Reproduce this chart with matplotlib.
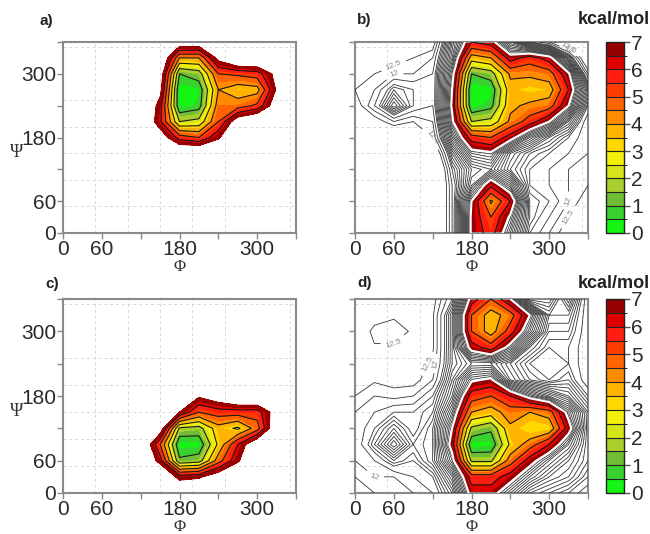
import numpy as np
import matplotlib
matplotlib.use('Agg')
import matplotlib.pyplot as plt
from matplotlib.colors import ListedColormap, BoundaryNorm

plt.rcParams['font.family'] = ['Liberation Sans', 'DejaVu Sans']

# grid nodes (degrees)
phi = [0, 30, 60, 90, 120, 150, 180, 210, 240, 270, 300, 330, 360]
psi_top_down = [360, 330, 300, 270, 240, 210, 180, 150, 120, 90, 60, 30, 0]

# free energy (kcal/mol), rows psi = 360 ... 0, columns phi = 0 ... 360
energy_a = [
    [9, 9, 9, 9, 9, 9, 8.2, 8.2, 9, 9, 9, 9, 9],
    [9, 9, 9, 9, 9, 9, 4, 4, 7.5, 9, 9, 9, 9],
    [9, 9, 9, 9, 9, 8, 1.0, 1.5, 5, 5.2, 5.5, 7.5, 9],
    [9, 9, 9, 9, 9, 7.5, 0.1, 0.4, 4, 3.4, 3.6, 7.2, 9],
    [9, 9, 9, 9, 9, 6.5, 0.2, 0.6, 4.5, 4.5, 5.2, 8, 9],
    [9, 9, 9, 9, 9, 6.2, 2.0, 2.3, 5, 8, 9, 9, 9],
    [9, 9, 9, 9, 9, 8, 5.5, 5, 6.8, 9, 9, 9, 9],
    [9, 9, 9, 9, 9, 9, 9, 9, 9, 9, 9, 9, 9],
    [9, 9, 9, 9, 9, 9, 9, 9, 9, 9, 9, 9, 9],
    [9, 9, 9, 9, 9, 9, 9, 9, 9, 9, 9, 9, 9],
    [9, 9, 9, 9, 9, 9, 9, 9, 9, 9, 9, 9, 9],
    [9, 9, 9, 9, 9, 9, 9, 9, 9, 9, 9, 9, 9],
    [9, 9, 9, 9, 9, 9, 9, 9, 9, 9, 9, 9, 9],
]

energy_b = [
    [15, 15, 15, 14, 13, 9, 6, 6.5, 9, 11, 12, 14, 15],
    [15, 14, 13, 12.5, 12, 8.5, 3.5, 4, 6.5, 5.5, 6.5, 10, 14],
    [14, 12.5, 12, 12, 11.5, 7.5, 1.0, 1.5, 4.2, 4.2, 4.5, 6.8, 12],
    [12.5, 12, 10.5, 11, 11.5, 7, 0.1, 0.3, 3.6, 3.3, 3.5, 6, 10],
    [13, 11.5, 9.5, 11, 11.5, 6.8, 0.2, 0.7, 3.8, 4.2, 4.5, 7, 11],
    [15, 13, 12, 12.5, 12, 7.3, 2.0, 2.3, 4.2, 5.5, 7, 9.5, 12],
    [15, 15, 14, 13, 12.5, 8.5, 5.5, 5, 6.5, 8.5, 10, 11, 12],
    [15, 15, 15, 14.5, 14, 10, 7.5, 7.2, 9.5, 10.5, 11, 11.5, 12],
    [15, 15, 15, 15, 15, 11, 9, 8.5, 10, 11, 11.5, 12, 12.5],
    [15, 15, 15, 15, 15, 11.5, 8.5, 6.2, 8, 11, 11.5, 12, 12.5],
    [15, 15, 15, 15, 15, 11.5, 7, 3.8, 6, 10.5, 11, 12, 13],
    [15, 15, 15, 15, 15, 11.5, 6.8, 5, 7.2, 10.5, 11.5, 12.5, 13],
    [15, 15, 15, 15, 15, 11.5, 6.8, 5.5, 8, 11, 12, 13, 14],
]

energy_c = [
    [9, 9, 9, 9, 9, 9, 9, 9, 9, 9, 9, 9, 9],
    [9, 9, 9, 9, 9, 9, 9, 9, 9, 9, 9, 9, 9],
    [9, 9, 9, 9, 9, 9, 9, 9, 9, 9, 9, 9, 9],
    [9, 9, 9, 9, 9, 9, 9, 9, 9, 9, 9, 9, 9],
    [9, 9, 9, 9, 9, 9, 9, 9, 9, 9, 9, 9, 9],
    [9, 9, 9, 9, 9, 9, 9, 9, 9, 9, 9, 9, 9],
    [9, 9, 9, 9, 9, 9, 8.5, 7.2, 8, 9, 9, 9, 9],
    [9, 9, 9, 9, 9, 9, 7, 5, 5.5, 5.5, 5.5, 7.8, 9],
    [9, 9, 9, 9, 9, 8, 1.8, 1.6, 3.6, 2.8, 4.5, 8.5, 9],
    [9, 9, 9, 9, 9, 5, 0.2, 0.3, 3.2, 6, 8.5, 9, 9],
    [9, 9, 9, 9, 9, 6.5, 1.2, 1.5, 4.5, 6.8, 9, 9, 9],
    [9, 9, 9, 9, 9, 9, 6.5, 6.8, 8, 9, 9, 9, 9],
    [9, 9, 9, 9, 9, 9, 9, 9, 9, 9, 9, 9, 9],
]

energy_d = [
    [14, 14, 13.5, 13, 12.8, 11, 6.5, 5, 7, 11, 11, 9, 12],
    [14, 13, 12.6, 12.6, 12.6, 10, 5, 3.5, 4.5, 7, 10, 10, 12],
    [13.5, 12.2, 12.2, 12.6, 12.6, 10, 5, 3.5, 5.5, 8, 10.5, 10.5, 12],
    [13, 12.6, 12.6, 12.6, 12.6, 10, 6.5, 5.5, 7.5, 10, 11, 11, 12],
    [13.5, 13, 12.8, 12.8, 12.4, 10, 9, 9, 10, 11, 11.5, 11, 12],
    [13, 12.6, 12.8, 12.8, 12, 9.5, 7.2, 6.8, 9.5, 10.5, 11, 10.5, 12],
    [12.5, 12, 12.2, 12, 11, 9, 5.5, 5, 6, 7.5, 8.5, 9.5, 11],
    [12, 11.5, 11, 11, 10.5, 8, 4, 3.5, 4.5, 4, 4.5, 7.5, 10],
    [12, 11, 10, 11, 10, 7, 1.8, 1.2, 3.8, 3, 3.2, 6.5, 10],
    [12, 10.5, 9, 10.5, 10, 6.5, 0.2, 0.3, 3.2, 4.5, 6, 8, 10],
    [12, 11.5, 10.5, 11, 10, 7.5, 1.8, 1.8, 4.5, 6.5, 8, 9, 10],
    [12.5, 12, 12, 11.5, 11, 9, 5.5, 5.5, 6.5, 8, 9, 9.5, 10.5],
    [13, 12.5, 12.5, 12, 11.5, 10, 6.5, 6.5, 8, 9.5, 10, 10.5, 11],
]

band_colors = ['#14f514', '#37d22d', '#6fbe36', '#a9cf2c', '#d6e41a', '#f2ef0a', '#ffd800',
               '#ffb400', '#ff8c00', '#ff6400', '#ff3c00', '#ff1e10', '#e00000', '#960000']
levels = np.arange(0, 7.01, 0.5)
cmap = ListedColormap(band_colors)
norm = BoundaryNorm(levels, cmap.N)
gray_levels = list(np.arange(7.25, 11.01, 0.25)) + [11.5, 12.0, 12.5]

X, Y = np.meshgrid(phi, psi_top_down)

W, H = 650.0, 534.0
def box(l, t, r, b):
    return [l / W, (H - b) / H, (r - l) / W, (b - t) / H]

fig = plt.figure(figsize=(6.5, 5.34), dpi=100)

# tag, data, axes box, full map?, tag position
panels = [
    ('a)', energy_a, box(63, 42, 296, 233), False, (40, 21)),
    ('b)', energy_b, box(355, 42, 588, 233), True, (357, 20)),
    ('c)', energy_c, box(63, 299, 296, 493), False, (45, 284)),
    ('d)', energy_d, box(355, 299, 588, 493), True, (357, 283)),
]

for tag, E, pos, full, tpos in panels:
    Z = np.array(E, dtype=float)
    ax = fig.add_axes(pos)
    ax.set_axisbelow(True)
    cf = ax.contourf(X, Y, Z, levels=levels, cmap=cmap, norm=norm, zorder=2)
    ax.contour(X, Y, Z, levels=[1, 2, 3, 4, 5, 6], colors='#1a1a1a', linewidths=0.8, zorder=3)
    if full:
        cs = ax.contour(X, Y, Z, levels=gray_levels, colors='#333333', linewidths=0.6, zorder=3)
        lab = [l for l in cs.levels if l in (12.0, 12.5)]
        ax.clabel(cs, levels=lab, fontsize=6, colors='#888888', fmt='%g', inline=True)
        ax.contour(X, Y, Z, levels=[7], colors='white', linewidths=1.5, zorder=4)
    else:
        ax.contour(X, Y, Z, levels=[7], colors='#a00000', linewidths=0.8, zorder=3)

    ax.set_xlim(0, 360)
    ax.set_ylim(0, 360)
    ax.set_xticks([0, 60, 120, 180, 240, 300, 360])
    ax.set_xticklabels(['0', '60', '', '180', '', '300', ''])
    ax.set_yticks([0, 60, 120, 180, 240, 300, 360])
    if full:
        ax.set_yticklabels([])
    else:
        ax.set_yticklabels(['0', '60', '', '180', '', '300', ''])
    ax.set_xticks(range(50, 360, 50), minor=True)
    ax.set_yticks(range(50, 360, 50), minor=True)
    ax.tick_params(which='minor', length=0)
    ax.tick_params(which='major', direction='out', length=4, width=1, color='#888888',
                   labelsize=15, labelcolor='#2a2a2a', pad=1)
    ax.grid(which='minor', color='#d8d8d8', linestyle=(0, (3, 3)), linewidth=0.7)
    for s in ax.spines.values():
        s.set_color('#8a8a8a')
        s.set_linewidth(1.5)
    ax.set_xlabel('Φ', family='Liberation Serif', fontsize=12, color='#333333', labelpad=0)

    fig.text(tpos[0] / W, 1 - tpos[1] / H, tag, fontsize=11, fontweight='bold',
             color='#222222', ha='left', va='center')
    if not full:
        fig.text(0.016, pos[1] + pos[3] * 0.42, 'Ψ', family='Liberation Serif', fontsize=13,
                 color='#333333', ha='left', va='center')
    else:
        cax = fig.add_axes([606 / W, pos[1], 18 / W, pos[3]])
        cb = fig.colorbar(cf, cax=cax, ticks=range(8), drawedges=True)
        cb.outline.set_color('#222222')
        cb.outline.set_linewidth(1)
        cb.dividers.set_color('#222222')
        cb.dividers.set_linewidth(0.8)
        cax.tick_params(direction='out', length=4, width=1, color='#555555',
                        labelsize=15, labelcolor='#2a2a2a', pad=1)
        fig.text(578 / W, 1 - tpos[1] / H, 'kcal/mol', fontsize=13, fontweight='bold',
                 color='#222222', ha='left', va='center')

fig.savefig('out.png', dpi=100)
